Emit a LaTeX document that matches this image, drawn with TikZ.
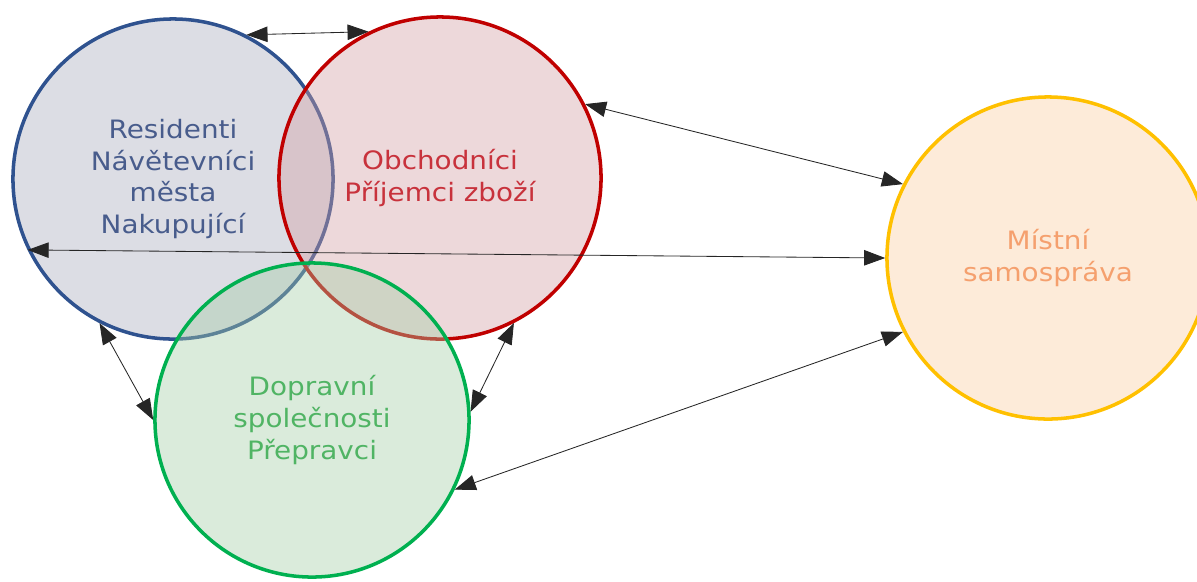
\documentclass[tikz,border=0pt]{standalone}
\usepackage{fontspec}
\newfontfamily\labfont[FakeStretch=1.1]{DejaVu Sans}
\usetikzlibrary{arrows.meta}
\definecolor{bstroke}{RGB}{47,82,143}
\definecolor{bfill}{RGB}{168,170,188}
\definecolor{btext}{RGB}{72,92,140}
\definecolor{rstroke}{RGB}{192,0,0}
\definecolor{rfill}{RGB}{210,158,163}
\definecolor{rtext}{RGB}{200,50,60}
\definecolor{gstroke}{RGB}{0,176,80}
\definecolor{gfill}{RGB}{163,205,165}
\definecolor{gtext}{RGB}{80,180,100}
\definecolor{ostroke}{RGB}{255,192,0}
\definecolor{ofill}{RGB}{253,235,217}
\definecolor{otext}{RGB}{245,160,110}
\begin{document}
\begin{tikzpicture}[x=0.025cm,y=-0.025cm,
  circ/.style={circle, line width=2.5pt, fill opacity=0.4, text opacity=1, align=center,
    font=\labfont\fontsize{18}{22.7}\selectfont, inner sep=0pt},
  link/.style={{Triangle[length=15pt,width=11pt]}-{Triangle[length=15pt,width=11pt]},
    line width=0.6pt, draw=black!85}
]
\useasboundingbox (0,0) rectangle (1197,581);
\node[circ, minimum size=8cm, draw=bstroke, fill=bfill, text=btext] (R) at (173,179)
  {Residenti\\Návětevníci\\města\\Nakupující};
\node[circ, minimum size=8.05cm, draw=rstroke, fill=rfill, text=rtext] (O) at (440,178)
  {Obchodníci\\Příjemci zboží};
\node[circ, minimum size=7.85cm, draw=gstroke, fill=gfill, text=gtext] (D) at (312,420)
  {Dopravní\\společnosti\\Přepravci};
\node[circ, minimum size=8.05cm, draw=ostroke, fill=ofill, fill opacity=1, text=otext] (M) at (1048,258)
  {Místní\\samospráva};
\draw[link] (R.63) -- (O.116);
\draw[link] (O.27) -- (M.153);
\draw[link] (R.206) -- (M.180);
\draw[link] (R.243) -- (D.180);
\draw[link] (O.297) -- (D.3);
\draw[link] (D.334) -- (M.207);
\end{tikzpicture}
\end{document}
